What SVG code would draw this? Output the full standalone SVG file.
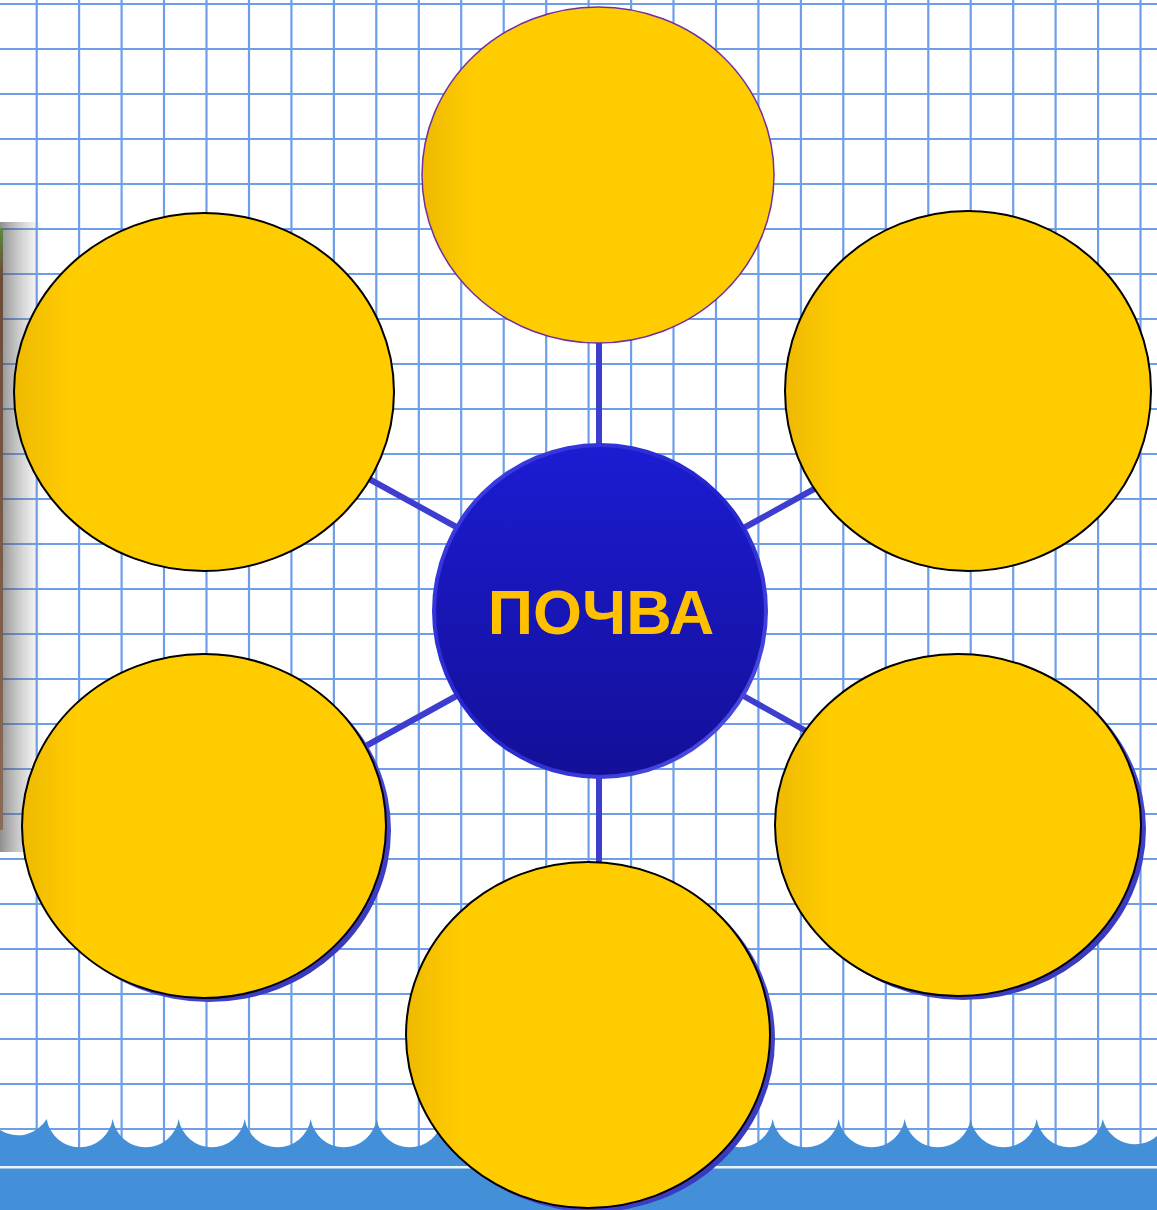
<svg xmlns="http://www.w3.org/2000/svg" width="1157" height="1210" viewBox="0 0 1157 1210">
<defs>
<style>
.grid line{stroke:#6f9ee8;stroke-width:2.2}
.conn line{stroke:#3d3dd0;stroke-width:6}
.yel{fill:url(#yg);stroke:#000;stroke-width:2}
.shd{fill:url(#sg)}
.lbl{font-family:"Liberation Sans",Arial,sans-serif;font-weight:bold;font-size:63px;fill:#ffc000;text-anchor:middle}
</style>
<linearGradient id="yg" x1="0" y1="0" x2="1" y2="0">
<stop offset="0" stop-color="#eeb900"/>
<stop offset="0.15" stop-color="#ffcc00"/>
<stop offset="1" stop-color="#ffcc00"/>
</linearGradient>
<linearGradient id="sg" x1="0" y1="0" x2="1" y2="1">
<stop offset="0" stop-color="#3a3ac8"/>
<stop offset="0.6" stop-color="#4a4ad6"/>
<stop offset="1" stop-color="#3030b0"/>
</linearGradient>
<linearGradient id="bg" x1="0" y1="0" x2="0" y2="1">
<stop offset="0" stop-color="#1c1cd2"/>
<stop offset="1" stop-color="#140f98"/>
</linearGradient>
<linearGradient id="rim" x1="0" y1="0" x2="1" y2="1">
<stop offset="0" stop-color="#4444e8"/>
<stop offset="0.5" stop-color="#2222cc"/>
<stop offset="1" stop-color="#5858e8"/>
</linearGradient>
<linearGradient id="sh" x1="0" y1="0" x2="1" y2="0">
<stop offset="0" stop-color="#444" stop-opacity="0.6"/>
<stop offset="1" stop-color="#999" stop-opacity="0"/>
</linearGradient>
<linearGradient id="photo" x1="0" y1="0" x2="0" y2="1">
<stop offset="0" stop-color="#5a8a3a"/>
<stop offset="0.08" stop-color="#6b4a3a"/>
<stop offset="1" stop-color="#8a6a58"/>
</linearGradient>
</defs>
<rect width="1157" height="1210" fill="#ffffff"/>
<g class="grid" id="grid">
<line x1="36.7" y1="0" x2="36.7" y2="1150"/><line x1="79.1" y1="0" x2="79.1" y2="1150"/><line x1="121.6" y1="0" x2="121.6" y2="1150"/><line x1="164" y1="0" x2="164" y2="1150"/><line x1="206.5" y1="0" x2="206.5" y2="1150"/><line x1="249" y1="0" x2="249" y2="1150"/><line x1="291.4" y1="0" x2="291.4" y2="1150"/><line x1="333.9" y1="0" x2="333.9" y2="1150"/><line x1="376.3" y1="0" x2="376.3" y2="1150"/><line x1="418.8" y1="0" x2="418.8" y2="1150"/><line x1="461.2" y1="0" x2="461.2" y2="1150"/><line x1="503.7" y1="0" x2="503.7" y2="1150"/><line x1="546.2" y1="0" x2="546.2" y2="1150"/><line x1="588.6" y1="0" x2="588.6" y2="1150"/><line x1="631.1" y1="0" x2="631.1" y2="1150"/><line x1="673.5" y1="0" x2="673.5" y2="1150"/><line x1="716" y1="0" x2="716" y2="1150"/><line x1="758.4" y1="0" x2="758.4" y2="1150"/><line x1="800.9" y1="0" x2="800.9" y2="1150"/><line x1="843.3" y1="0" x2="843.3" y2="1150"/><line x1="885.8" y1="0" x2="885.8" y2="1150"/><line x1="928.3" y1="0" x2="928.3" y2="1150"/><line x1="970.7" y1="0" x2="970.7" y2="1150"/><line x1="1013.2" y1="0" x2="1013.2" y2="1150"/><line x1="1055.6" y1="0" x2="1055.6" y2="1150"/><line x1="1098.1" y1="0" x2="1098.1" y2="1150"/><line x1="1140.5" y1="0" x2="1140.5" y2="1150"/>
<line x1="0" y1="4" x2="1157" y2="4"/><line x1="0" y1="49" x2="1157" y2="49"/><line x1="0" y1="94" x2="1157" y2="94"/><line x1="0" y1="139" x2="1157" y2="139"/><line x1="0" y1="184" x2="1157" y2="184"/><line x1="0" y1="229" x2="1157" y2="229"/><line x1="0" y1="274" x2="1157" y2="274"/><line x1="0" y1="319" x2="1157" y2="319"/><line x1="0" y1="364" x2="1157" y2="364"/><line x1="0" y1="409" x2="1157" y2="409"/><line x1="0" y1="454" x2="1157" y2="454"/><line x1="0" y1="499" x2="1157" y2="499"/><line x1="0" y1="544" x2="1157" y2="544"/><line x1="0" y1="589" x2="1157" y2="589"/><line x1="0" y1="634" x2="1157" y2="634"/><line x1="0" y1="679" x2="1157" y2="679"/><line x1="0" y1="724" x2="1157" y2="724"/><line x1="0" y1="769" x2="1157" y2="769"/><line x1="0" y1="814" x2="1157" y2="814"/><line x1="0" y1="859" x2="1157" y2="859"/><line x1="0" y1="904" x2="1157" y2="904"/><line x1="0" y1="949" x2="1157" y2="949"/><line x1="0" y1="994" x2="1157" y2="994"/><line x1="0" y1="1039" x2="1157" y2="1039"/><line x1="0" y1="1084" x2="1157" y2="1084"/><line x1="0" y1="1129" x2="1157" y2="1129"/>
</g>
<g id="left-strip">
<rect x="0" y="222" width="44" height="630" fill="url(#sh)"/>
<rect x="0" y="228" width="3" height="602" fill="url(#photo)"/>
</g>
<g id="wave">
<path fill="#4490d8" d="M0,1210 L0,1130 A33.4,33.4 0 0 0 46.7,1119 A33.4,33.4 0 0 0 112.7,1119 A33.4,33.4 0 0 0 178.7,1119 A33.4,33.4 0 0 0 244.7,1119 A33.4,33.4 0 0 0 310.7,1119 A33.4,33.4 0 0 0 376.7,1119 A33.4,33.4 0 0 0 442.7,1119 A33.4,33.4 0 0 0 508.7,1119 A33.4,33.4 0 0 0 574.7,1119 A33.4,33.4 0 0 0 640.7,1119 A33.4,33.4 0 0 0 706.7,1119 A33.4,33.4 0 0 0 772.7,1119 A33.4,33.4 0 0 0 838.7,1119 A33.4,33.4 0 0 0 904.7,1119 A33.4,33.4 0 0 0 970.7,1119 A33.4,33.4 0 0 0 1036.7,1119 A33.4,33.4 0 0 0 1102.7,1119 A33.4,33.4 0 0 0 1157,1136 L1157,1210 Z"/>
<rect x="0" y="1166" width="1157" height="2.5" fill="#ffffff" opacity="0.9"/>
</g>
<g class="conn" id="connectors">
<line x1="599" y1="340" x2="599" y2="450"/>
<line x1="599" y1="770" x2="599" y2="866"/>
<line x1="360" y1="474" x2="460" y2="529"/>
<line x1="740" y1="530" x2="825" y2="483"/>
<line x1="355" y1="752" x2="460" y2="694"/>
<line x1="740" y1="694" x2="815" y2="736"/>
</g>
<g id="node-top"><ellipse cx="598" cy="175" rx="176" ry="168" fill="url(#yg)" stroke="#7030a0" stroke-width="1.5"/></g>
<g id="node-top-left"><ellipse class="yel" cx="204" cy="392" rx="190" ry="179"/></g>
<g id="node-top-right"><ellipse class="yel" cx="968" cy="391" rx="183" ry="180"/></g>
<g id="node-bottom-left"><ellipse class="shd" cx="209" cy="830" rx="182" ry="172"/><ellipse class="yel" cx="204" cy="826" rx="182" ry="172"/></g>
<g id="node-bottom-right"><ellipse class="shd" cx="963" cy="829" rx="183" ry="171"/><ellipse class="yel" cx="958" cy="825" rx="183" ry="171"/></g>
<g id="node-bottom"><ellipse class="shd" cx="593" cy="1039" rx="182" ry="173"/><ellipse class="yel" cx="588" cy="1035" rx="182" ry="173"/></g>
<g id="node-center">
<circle cx="600" cy="611" r="168" fill="url(#rim)"/>
<circle cx="600" cy="611" r="164" fill="url(#bg)"/>
<text class="lbl" x="601" y="634">ПОЧВА</text>
</g>
</svg>
